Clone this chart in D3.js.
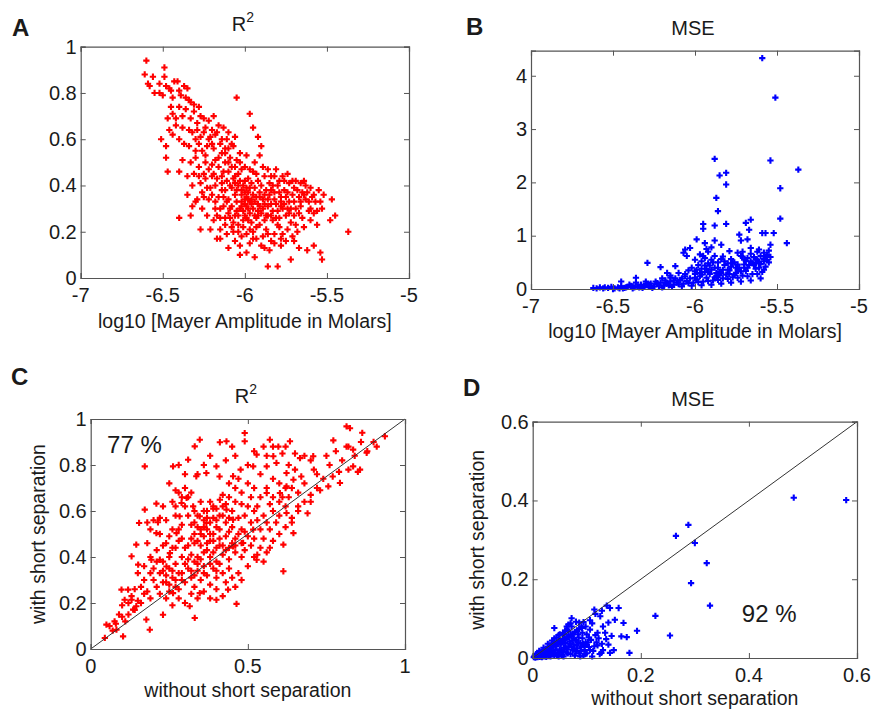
<!DOCTYPE html>
<html>
  <head>
    <meta charset="utf-8">
    <script src="https://d3js.org/d3.v7.min.js"></script>
    <title>Mayer amplitude scatter panels</title>
    <style>
      body { margin: 0px; background: #fff; }
      text { font-family: "Liberation Sans", Arial, sans-serif; fill: #1a1a1a; }
      .tick-label { font-size: 20px; }
      .axis-label { font-size: 19.5px; }
      .title { font-size: 20px; }
      .panel-letter { font-size: 24px; font-weight: bold; }
      .note { font-size: 24px; }
    </style>
  </head>
  <body>
    <div id="viz"></div>
    <script>
      // panel A: R^2 vs log10 Mayer amplitude
      const pointsA = [
        [-6.60,0.94],[-6.61,0.88],[-6.59,0.84],[-6.56,0.87],[-6.58,0.83],[-6.49,0.91],[-6.49,0.87],[-6.52,0.80],[-6.48,0.83],[-6.50,0.79],
        [-6.46,0.82],[-6.43,0.85],[-6.41,0.85],[-6.45,0.81],[-6.44,0.78],[-6.37,0.83],[-6.35,0.82],[-6.39,0.79],[-6.36,0.78],[-6.33,0.76],
        [-6.31,0.75],[-6.34,0.77],[-6.45,0.74],[-6.47,0.69],[-6.44,0.71],[-6.38,0.70],[-6.36,0.73],[-6.40,0.74],[-6.42,0.69],[-6.46,0.64],
        [-6.44,0.62],[-6.27,0.70],[-6.25,0.69],[-6.19,0.70],[-6.22,0.68],[-6.29,0.67],[-6.05,0.78],[-5.97,0.71],[-5.95,0.65],[-5.92,0.61],
        [-5.90,0.57],[-6.51,0.60],[-6.48,0.57],[-6.48,0.52],[-6.47,0.46],[-6.40,0.46],[-6.38,0.51],[-6.37,0.58],[-6.34,0.64],[-6.32,0.63],
        [-6.29,0.64],[-6.30,0.60],[-6.25,0.63],[-6.27,0.61],[-6.21,0.61],[-6.17,0.63],[-6.13,0.65],[-6.11,0.60],[-6.07,0.57],[-6.15,0.58],
        [-6.19,0.56],[-6.23,0.57],[-6.26,0.55],[-6.30,0.52],[-6.33,0.50],[-6.35,0.44],[-6.31,0.45],[-6.28,0.48],[-6.24,0.50],[-6.20,0.49],
        [-6.16,0.52],[-6.12,0.54],[-6.09,0.52],[-6.05,0.51],[-6.03,0.54],[-5.99,0.53],[-5.94,0.50],[-5.91,0.53],[-5.86,0.47],[-5.81,0.47],
        [-5.82,0.44],[-5.76,0.42],[-5.69,0.42],[-5.66,0.41],[-5.64,0.42],[-5.60,0.39],[-5.55,0.38],[-5.58,0.36],[-5.64,0.36],[-5.47,0.34],
        [-5.53,0.30],[-5.58,0.28],[-5.45,0.27],[-5.48,0.25],[-5.37,0.20],[-5.53,0.08],[-5.54,0.11],[-5.58,0.14],[-5.62,0.12],[-5.67,0.13],
        [-5.72,0.08],[-5.70,0.16],[-5.78,0.14],[-5.80,0.05],[-5.86,0.05],[-5.88,0.13],[-5.84,0.16],[-5.94,0.09],[-5.99,0.11],[-6.03,0.10],
        [-6.03,0.14],[-6.10,0.13],[-6.15,0.17],[-6.17,0.17],[-6.21,0.21],[-6.27,0.21],[-6.33,0.27],[-6.40,0.26],[-6.32,0.31],[-6.29,0.34],
        [-6.25,0.35],[-6.23,0.27],[-6.19,0.25],[-6.15,0.21],[-6.11,0.19],[-6.07,0.20],[-6.15,0.26],[-6.12,0.38],[-6.10,0.34],[-6.08,0.31],
        [-6.06,0.36],[-6.04,0.40],[-6.02,0.33],[-6.00,0.37],[-5.98,0.30],[-5.96,0.34],[-5.94,0.39],[-5.92,0.32],[-5.90,0.28],[-5.88,0.36],
        [-5.86,0.31],[-5.84,0.38],[-5.82,0.34],[-5.80,0.29],[-5.78,0.35],[-5.76,0.32],[-5.74,0.37],[-5.72,0.30],[-5.70,0.33],[-5.68,0.38],
        [-5.66,0.31],[-5.63,0.34],[-5.61,0.29],[-5.72,0.24],[-5.75,0.27],[-5.79,0.22],[-5.83,0.25],[-5.87,0.21],[-5.91,0.23],[-5.95,0.20],
        [-5.98,0.25],[-6.01,0.22],[-6.04,0.27],[-6.07,0.24],[-6.10,0.28],[-6.13,0.31],[-6.16,0.35],[-6.18,0.40],[-6.20,0.44],[-6.14,0.44],
        [-6.10,0.46],[-6.06,0.44],[-6.02,0.47],[-5.98,0.43],[-5.95,0.46],[-5.92,0.42],[-5.88,0.44],[-5.85,0.41],[-5.80,0.40],[-5.77,0.44],
        [-5.73,0.41],[-5.70,0.39],[-5.97,0.28],[-5.93,0.26],[-5.89,0.30],[-6.00,0.32],[-6.03,0.30],[-6.05,0.33],[-5.99,0.35],[-5.95,0.36],
        [-6.01,0.40],[-6.08,0.39],[-6.11,0.42],[-5.97,0.39],[-5.91,0.37],[-5.86,0.34],[-5.83,0.29],[-5.81,0.26],[-5.77,0.19],[-5.74,0.21],
        [-5.69,0.23],[-5.65,0.26],[-5.60,0.30],[-5.57,0.33],[-5.62,0.37],[-5.67,0.35],[-5.93,0.17],[-5.97,0.15],[-6.02,0.18],[-6.06,0.16],
        [-5.89,0.18],[-5.85,0.12],[-5.82,0.19],[-6.00,0.27],[-6.04,0.23],[-6.09,0.30],[-5.96,0.24],[-5.92,0.29],[-6.21,0.39],[-6.24,0.43],
        [-6.27,0.41],[-6.22,0.34],[-6.18,0.30],[-6.13,0.35],[-6.26,0.37],[-6.19,0.45],[-6.16,0.48],[-6.12,0.50],[-6.08,0.48],[-6.04,0.45],
        [-6.00,0.42],[-6.00,0.48],[-6.07,0.43],[-6.14,0.41],[-5.99,0.31],[-5.98,0.34],[-6.02,0.36],[-5.94,0.33],[-5.90,0.40],[-5.87,0.38],
        [-5.79,0.37],[-5.76,0.38],[-5.71,0.36],[-5.73,0.33],[-5.78,0.31],[-5.84,0.32],[-5.91,0.35],[-6.05,0.29],[-6.09,0.26],[-6.12,0.23],
        [-6.17,0.27],[-5.93,0.22],[-5.88,0.25],[-5.86,0.27],[-5.80,0.23],[-6.22,0.60],[-6.20,0.58],[-6.18,0.62],[-6.14,0.60],[-6.10,0.63],
        [-6.08,0.58],[-6.06,0.61],[-6.12,0.56],[-6.28,0.58],[-6.24,0.53],[-6.10,0.56],
        [-6.05,0.38],[-6.03,0.42],[-6.01,0.29],[-5.99,0.26],[-5.97,0.33],[-5.96,0.41],[-5.94,0.27],[-5.93,0.35],[-5.91,0.31],[-5.89,0.34],
        [-5.87,0.27],[-5.85,0.36],[-5.83,0.40],[-5.81,0.32],[-5.79,0.26],[-5.77,0.30],[-5.75,0.35],[-5.73,0.28],[-5.71,0.42],[-5.69,0.30],
        [-5.67,0.28],[-5.65,0.37],[-5.63,0.40],[-5.61,0.33],[-5.59,0.35],[-5.56,0.29],[-5.54,0.33],[-5.52,0.36],[-5.56,0.23],[-5.60,0.25],
        [-5.64,0.22],[-5.68,0.20],[-5.71,0.18],[-5.75,0.16],[-5.78,0.17],[-5.82,0.15],[-5.86,0.19],[-5.90,0.14],[-5.95,0.17],[-5.99,0.19],
        [-6.04,0.20],[-6.08,0.22],[-6.12,0.26],[-6.15,0.30],[-6.18,0.33],[-6.20,0.36],[-6.23,0.39],[-6.25,0.45],[-6.22,0.47],[-6.18,0.51],
        [-6.14,0.54],[-6.10,0.50],[-6.06,0.48],[-6.03,0.50],[-5.97,0.47],[-5.93,0.45],[-5.89,0.48],[-5.84,0.44],[-5.79,0.42],[-5.74,0.45],
        [-6.13,0.46],[-6.09,0.40],[-6.06,0.41],[-6.02,0.38],[-5.98,0.37],[-5.95,0.30],[-5.92,0.27],[-5.88,0.32],[-5.84,0.27],[-5.82,0.37],
        [-5.78,0.33],[-5.74,0.30],[-5.70,0.27],[-5.66,0.33],[-6.00,0.34],[-6.02,0.31],[-5.96,0.32],[-5.99,0.39],[-6.01,0.25],[-5.97,0.21],
        [-6.06,0.27],[-6.11,0.33],[-6.14,0.38],[-6.17,0.43],[-6.28,0.44],[-6.32,0.40],[-6.35,0.36],[-6.30,0.33],[-6.26,0.30],[-6.30,0.55],
        [-6.34,0.57],[-6.40,0.60],[-6.42,0.66],[-6.38,0.65],[-6.33,0.69],[-6.31,0.72],[-6.28,0.74],[-6.24,0.65],[-6.16,0.66],[-6.20,0.64],
        [-6.40,0.81],[-6.52,0.84],[-6.55,0.80]
      ];

      // panel B: MSE vs log10 Mayer amplitude
      const pointsB = [
        [-6.62,0.02],[-6.60,0.01],[-6.58,0.03],[-6.56,0.01],[-6.53,0.02],[-6.51,0.04],[-6.49,0.01],[-6.47,0.03],[-6.45,0.05],[-6.43,0.02],
        [-6.41,0.04],[-6.39,0.06],[-6.37,0.03],[-6.35,0.05],[-6.33,0.08],[-6.31,0.04],[-6.29,0.07],[-6.27,0.10],[-6.25,0.05],[-6.23,0.09],
        [-6.21,0.12],[-6.19,0.06],[-6.17,0.10],[-6.15,0.14],[-6.13,0.08],[-6.11,0.12],[-6.09,0.17],[-6.07,0.10],[-6.05,0.15],[-6.03,0.20],
        [-6.01,0.12],[-5.99,0.18],[-5.97,0.24],[-5.95,0.14],[-5.93,0.21],[-5.91,0.28],[-5.89,0.16],[-5.87,0.24],[-5.85,0.32],[-5.83,0.20],
        [-5.81,0.27],[-5.79,0.35],[-5.77,0.22],[-5.75,0.30],[-5.73,0.40],[-5.71,0.25],[-5.69,0.34],[-5.67,0.45],[-5.65,0.28],[-5.63,0.38],
        [-5.61,0.50],[-5.59,0.32],[-5.57,0.42],[-5.56,0.55],[-6.50,0.00],[-6.44,0.01],[-6.38,0.01],[-6.32,0.02],[-6.26,0.02],[-6.20,0.03],
        [-6.14,0.04],[-6.08,0.05],[-6.02,0.06],[-5.96,0.07],[-5.90,0.08],[-5.84,0.10],[-5.78,0.12],[-5.72,0.14],[-5.66,0.16],[-5.60,0.20],
        [-6.36,0.12],[-6.30,0.10],[-6.24,0.14],[-6.18,0.16],[-6.12,0.20],[-6.06,0.24],[-6.00,0.28],[-5.94,0.32],[-5.88,0.40],[-5.82,0.45],
        [-5.76,0.50],[-5.70,0.55],[-5.64,0.60],[-5.98,0.45],[-5.96,0.52],[-5.94,0.58],[-5.92,0.48],[-5.90,0.55],[-5.88,0.62],[-5.86,0.50],
        [-5.84,0.56],[-5.80,0.48],[-5.78,0.42],[-5.74,0.36],[-5.70,0.46],[-5.68,0.58],[-5.66,0.66],[-5.62,0.70],[-5.60,0.62],[-5.58,0.56],
        [-5.54,0.60],[-5.55,0.72],[-6.10,0.30],[-6.15,0.25],[-6.20,0.20],[-6.04,0.35],[-6.02,0.40],[-5.99,0.36],[-5.97,0.30],[-5.93,0.38],
        [-5.91,0.44],[-5.87,0.30],[-5.85,0.26],[-5.83,0.36],[-5.79,0.28],[-5.75,0.40],[-5.72,0.62],[-5.71,0.70],[-5.69,0.52],[-5.65,0.48],
        [-5.63,0.56],[-5.61,0.40],[-5.59,4.33],[-5.51,3.59],[-5.54,2.41],[-5.37,2.24],[-5.48,1.89],[-5.48,1.32],[-5.52,1.05],[-5.44,0.86],
        [-5.54,0.83],[-5.88,2.44],[-5.85,2.13],[-5.81,2.18],[-5.81,1.96],[-5.87,1.71],[-5.86,1.46],[-5.88,1.19],[-5.81,1.22],[-5.95,1.22],
        [-5.95,1.13],[-5.88,0.91],[-5.84,0.83],[-5.99,0.93],[-6.03,0.77],[-6.06,0.74],[-6.07,0.68],[-5.94,0.86],[-5.69,1.24],[-5.66,1.30],
        [-5.67,1.11],[-5.59,1.05],[-5.57,1.05],[-5.73,1.02],[-5.72,0.91],[-5.68,0.93],[-5.66,0.77],[-5.61,0.74],[-5.58,0.68],[-5.56,0.64],
        [-5.58,0.52],[-5.55,0.50],[-5.63,0.49],[-5.71,0.61],[-5.74,0.68],[-5.79,0.71],[-5.83,0.61],[-5.77,0.49],[-6.29,0.49],[-6.21,0.41],
        [-6.17,0.30],[-6.12,0.43],[-6.15,0.21],[-6.45,0.14],[-6.40,0.08],[-6.36,0.21],[-6.05,0.62],[-6.00,0.55],[-5.97,0.65],[-5.92,0.70],
        [-5.90,0.78],
        [-6.46,0.01],[-6.42,0.03],[-6.34,0.03],[-6.28,0.05],[-6.22,0.06],[-6.16,0.07],[-6.10,0.09],[-6.04,0.11],[-5.98,0.13],[-5.92,0.15],
        [-5.86,0.17],[-5.80,0.19],[-5.74,0.21],[-5.68,0.24],[-5.62,0.28],[-5.58,0.36],[-6.00,0.21],[-5.96,0.27],[-5.92,0.33],[-5.88,0.22],
        [-5.84,0.30],[-5.80,0.36],[-5.76,0.27],[-5.72,0.33],[-5.68,0.40],[-5.64,0.45],[-5.60,0.47],[-5.57,0.60],[-5.62,0.55],[-5.66,0.52],
        [-5.70,0.40],[-5.74,0.46],[-5.78,0.56],[-5.82,0.52],[-5.86,0.40],[-5.90,0.36],[-5.94,0.44],[-5.96,0.38],[-6.08,0.20],[-6.13,0.16],
        [-6.18,0.12],[-6.23,0.11],[-6.28,0.08],[-6.33,0.06],[-6.38,0.05],[-6.55,0.03],[-6.30,0.14],[-6.06,0.28],[-6.00,0.33],[-5.95,0.62],
        [-5.93,0.75],[-5.89,0.50]
      ];

      // panel C: R^2 with vs without short separation
      const pointsC = [
        [0.814,0.968],[0.825,0.96],[0.864,0.94],[0.772,0.907],[0.936,0.925],[0.91,0.88],[0.878,0.853],[0.814,0.88],[0.835,0.867],[0.857,0.78],
        [0.835,0.794],[0.793,0.722],[0.756,0.707],[0.708,0.838],[0.666,0.83],[0.634,0.903],[0.597,0.88],[0.581,0.838],[0.528,0.845],[0.49,0.939],
        [0.49,0.903],[0.432,0.903],[0.411,0.899],[0.347,0.91],[0.331,0.881],[0.262,0.794],[0.172,0.794],[0.31,0.823],[0.336,0.751],[0.368,0.765],
        [0.40,0.794],[0.453,0.751],[0.477,0.78],[0.517,0.794],[0.56,0.794],[0.591,0.809],[0.623,0.765],[0.645,0.736],[0.623,0.707],[0.602,0.678],
        [0.56,0.678],[0.623,0.591],[0.645,0.504],[0.613,0.454],[0.613,0.338],[0.528,0.388],[0.517,0.519],[0.485,0.461],[0.453,0.446],[0.437,0.258],
        [0.464,0.196],[0.40,0.214],[0.347,0.243],[0.331,0.135],[0.315,0.186],[0.262,0.243],[0.23,0.149],[0.188,0.084],[0.177,0.128],[0.135,0.171],
        [0.103,0.055],[0.082,0.084],[0.05,0.106],[0.045,0.048],[0.076,0.12],[0.098,0.258],[0.119,0.258],[0.108,0.214],[0.13,0.214],[0.145,0.186],
        [0.13,0.403],[0.151,0.367],[0.145,0.454],[0.154,0.548],[0.172,0.606],[0.209,0.632],[0.214,0.551],[0.209,0.504],[0.193,0.388],[0.22,0.388],
        [0.241,0.359],[0.252,0.417],[0.273,0.504],[0.283,0.577],[0.289,0.635],[0.305,0.657],[0.326,0.62],[0.347,0.577],[0.368,0.548],[0.39,0.62],
        [0.411,0.649],[0.432,0.606],[0.453,0.562],[0.70,0.82],[0.72,0.76],[0.68,0.72],[0.66,0.68],[0.74,0.74],[0.76,0.80],[0.78,0.86],
        [0.80,0.82],[0.82,0.78],[0.84,0.84],[0.86,0.90],[0.88,0.86],[0.90,0.90],[0.85,0.77],[0.82,0.88],[0.77,0.75],[0.73,0.69],
        [0.70,0.64],[0.69,0.59],[0.66,0.62],[0.64,0.57],[0.63,0.66],[0.60,0.72],[0.58,0.74],[0.57,0.63],[0.55,0.58],[0.53,0.62],
        [0.51,0.66],[0.50,0.72],[0.48,0.68],[0.47,0.74],[0.52,0.70],[0.54,0.76],[0.56,0.84],[0.58,0.88],[0.61,0.85],[0.63,0.80],
        [0.65,0.85],[0.55,0.88],[0.52,0.86],[0.45,0.88],[0.43,0.82],[0.41,0.75],[0.38,0.84],[0.36,0.80],[0.34,0.76],[0.30,0.76],
        [0.28,0.80],[0.25,0.72],[0.27,0.69],[0.30,0.70],[0.32,0.68],[0.30,0.62],[0.31,0.58],[0.32,0.54],[0.33,0.50],[0.34,0.47],
        [0.35,0.52],[0.36,0.56],[0.37,0.60],[0.38,0.64],[0.39,0.57],[0.40,0.53],[0.41,0.58],[0.42,0.62],[0.43,0.55],[0.44,0.51],
        [0.45,0.60],[0.46,0.64],[0.47,0.57],[0.48,0.52],[0.49,0.58],[0.50,0.62],[0.51,0.55],[0.35,0.45],[0.36,0.49],[0.37,0.46],
        [0.38,0.50],[0.39,0.47],[0.40,0.44],[0.41,0.48],[0.42,0.45],[0.43,0.49],[0.44,0.44],[0.46,0.48],[0.48,0.46],[0.50,0.49],
        [0.52,0.48],[0.54,0.52],[0.56,0.55],[0.58,0.60],[0.60,0.58],[0.62,0.62],[0.55,0.48],[0.34,0.53],[0.36,0.60],[0.38,0.55],
        [0.40,0.61],[0.42,0.67],[0.44,0.66],[0.46,0.70],[0.35,0.64],[0.33,0.60],[0.31,0.66],[0.29,0.54],[0.27,0.58],[0.26,0.52],
        [0.28,0.47],[0.30,0.44],[0.32,0.41],[0.34,0.40],[0.36,0.42],[0.38,0.40],[0.40,0.38],[0.42,0.41],[0.44,0.39],[0.46,0.42],
        [0.48,0.40],[0.37,0.52],[0.39,0.50],[0.35,0.50],[0.33,0.46],[0.41,0.52],[0.20,0.30],[0.21,0.27],[0.22,0.33],[0.23,0.29],
        [0.24,0.32],[0.25,0.28],[0.26,0.34],[0.27,0.30],[0.28,0.26],[0.29,0.33],[0.30,0.29],[0.31,0.35],[0.32,0.31],[0.33,0.27],
        [0.34,0.34],[0.35,0.30],[0.36,0.36],[0.37,0.32],[0.38,0.28],[0.39,0.35],[0.40,0.31],[0.41,0.37],[0.42,0.33],[0.43,0.29],
        [0.44,0.35],[0.45,0.31],[0.46,0.27],[0.47,0.33],[0.48,0.30],[0.50,0.36],[0.52,0.40],[0.54,0.44],[0.56,0.42],[0.58,0.47],
        [0.60,0.50],[0.62,0.53],[0.64,0.55],[0.66,0.60],[0.68,0.64],[0.70,0.67],[0.72,0.70],[0.18,0.25],[0.19,0.22],[0.17,0.30],
        [0.16,0.27],[0.15,0.21],[0.14,0.17],[0.12,0.15],[0.11,0.12],[0.10,0.19],[0.09,0.15],[0.08,0.11],[0.07,0.08],[0.06,0.10],
        [0.13,0.23],[0.15,0.33],[0.17,0.36],[0.19,0.40],[0.21,0.43],[0.23,0.38],[0.25,0.40],[0.27,0.37],[0.29,0.40],[0.31,0.39],
        [0.33,0.38],[0.24,0.22],[0.26,0.19],[0.28,0.22],[0.30,0.20],[0.32,0.24],[0.34,0.22],[0.36,0.25],[0.38,0.22],[0.40,0.26],
        [0.42,0.23],[0.22,0.24],[0.20,0.35],[0.18,0.46],[0.22,0.50],[0.24,0.46],[0.26,0.44],[0.24,0.56],[0.20,0.56],[0.23,0.62],
        [0.26,0.64],[0.28,0.68],[0.49,0.43],[0.51,0.45],[0.53,0.41],[0.55,0.38],[0.57,0.44],
        [0.36,0.53],[0.37,0.57],[0.38,0.47],[0.39,0.61],[0.40,0.56],[0.41,0.45],[0.42,0.58],[0.43,0.63],[0.44,0.57],[0.45,0.53],
        [0.46,0.45],[0.47,0.50],[0.34,0.58],[0.33,0.55],[0.32,0.48],[0.31,0.45],[0.29,0.48],[0.28,0.52],[0.27,0.44],[0.25,0.35],
        [0.24,0.29],[0.23,0.34],[0.26,0.31],[0.28,0.33],[0.30,0.37],[0.32,0.34],[0.34,0.37],[0.36,0.33],[0.38,0.37],[0.40,0.34],
        [0.29,0.30],[0.27,0.27],[0.25,0.25],[0.33,0.32],[0.35,0.39],[0.37,0.43],[0.39,0.42],[0.43,0.43],[0.45,0.46],[0.49,0.51],
        [0.53,0.56],[0.57,0.52],[0.59,0.55],[0.61,0.66],[0.64,0.70],[0.67,0.75],[0.71,0.78],[0.75,0.84],[0.79,0.77],[0.68,0.84],
        [0.62,0.88],[0.57,0.91],[0.46,0.84],[0.50,0.80],[0.44,0.72],[0.48,0.63],[0.52,0.60],[0.54,0.66],[0.56,0.70],[0.58,0.66],
        [0.60,0.64],[0.62,0.70],[0.65,0.78],[0.21,0.38],[0.19,0.33],[0.17,0.24],[0.16,0.20],[0.14,0.26],[0.12,0.20],[0.10,0.14],
        [0.23,0.45],[0.25,0.49],[0.27,0.62],[0.29,0.66],[0.22,0.57],[0.19,0.52],[0.18,0.55]
      ];

      // panel D: MSE with vs without short separation
      const pointsD = [
        [0.483,0.407],[0.58,0.401],[0.288,0.338],[0.265,0.31],[0.30,0.292],[0.322,0.241],[0.293,0.19],[0.328,0.133],[0.227,0.107],[0.254,0.057],
        [0.193,0.069],[0.179,0.013],[0.159,0.127],[0.168,0.089],[0.164,0.055],[0.174,0.053],[0.152,0.097],[0.137,0.133],[0.143,0.127],[0.114,0.123],
        [0.125,0.106],[0.127,0.013],[0.14,0.034],[0.143,0.013],[0.106,0.072],[0.10,0.034],[0.094,0.091],[0.091,0.076],[0.072,0.101],[0.066,0.085],
        [0.063,0.08],[0.04,0.076],[0.002,0.002],[0.004,0.006],[0.006,0.003],[0.008,0.010],[0.010,0.004],[0.012,0.012],[0.014,0.006],[0.016,0.016],
        [0.018,0.008],[0.020,0.020],[0.022,0.010],[0.024,0.024],[0.026,0.012],[0.028,0.028],[0.030,0.014],[0.032,0.032],[0.034,0.016],[0.036,0.036],
        [0.038,0.018],[0.040,0.040],[0.042,0.020],[0.044,0.030],[0.046,0.012],[0.048,0.044],[0.050,0.022],[0.052,0.034],[0.054,0.008],[0.056,0.048],
        [0.058,0.026],[0.060,0.038],[0.062,0.014],[0.064,0.052],[0.066,0.030],[0.068,0.042],[0.070,0.010],[0.072,0.056],[0.074,0.020],[0.076,0.034],
        [0.078,0.006],[0.080,0.046],[0.082,0.024],[0.084,0.060],[0.086,0.012],[0.088,0.038],[0.090,0.028],[0.092,0.050],[0.094,0.006],[0.096,0.020],
        [0.098,0.040],[0.100,0.012],[0.104,0.028],[0.108,0.046],[0.112,0.018],[0.116,0.058],[0.120,0.032],[0.124,0.010],[0.130,0.020],[0.136,0.048],
        [0.150,0.020],[0.010,0.008],[0.014,0.010],[0.018,0.014],[0.022,0.018],[0.026,0.020],[0.030,0.024],[0.034,0.026],[0.038,0.030],[0.042,0.032],
        [0.046,0.036],[0.050,0.040],[0.054,0.042],[0.058,0.046],[0.062,0.050],[0.066,0.054],[0.070,0.058],[0.074,0.062],[0.078,0.066],[0.082,0.070],
        [0.086,0.074],[0.090,0.080],[0.080,0.092],[0.070,0.088],[0.060,0.070],[0.050,0.060],[0.044,0.052],[0.036,0.044],[0.028,0.036],[0.020,0.026],
        [0.012,0.018],[0.006,0.010],[0.003,0.004],[0.016,0.004],[0.024,0.006],[0.032,0.008],[0.040,0.006],[0.048,0.004],[0.056,0.016],[0.064,0.022],
        [0.072,0.028],[0.080,0.016],[0.088,0.004],[0.096,0.030],[0.104,0.052],[0.110,0.004],[0.118,0.040],[0.066,0.068],[0.058,0.060],[0.076,0.050],
        [0.084,0.040],[0.092,0.064],[0.100,0.060],[0.110,0.088],[0.120,0.064],[0.130,0.080],
        [0.005,0.001],[0.009,0.002],[0.013,0.003],[0.017,0.002],[0.021,0.004],[0.025,0.003],[0.029,0.005],[0.033,0.004],[0.037,0.010],[0.041,0.012],
        [0.045,0.006],[0.049,0.014],[0.053,0.018],[0.057,0.004],[0.061,0.028],[0.065,0.012],[0.069,0.036],[0.073,0.044],[0.077,0.024],[0.081,0.032],
        [0.085,0.052],[0.089,0.018],[0.093,0.036],[0.097,0.010],[0.102,0.040],[0.106,0.020],[0.114,0.030],[0.122,0.050],[0.128,0.036],[0.134,0.064],
        [0.140,0.090],[0.146,0.056],[0.040,0.050],[0.048,0.058],[0.056,0.064],[0.064,0.072],[0.072,0.080],[0.086,0.090],[0.098,0.080],[0.106,0.096],
        [0.116,0.112],[0.128,0.120]
      ];

      // tick values
      const ticksAmpX = [-7, -6.5, -6, -5.5, -5];
      const ticksR2Y = [0, 0.2, 0.4, 0.6, 0.8, 1];
      const ticksMseY = [0, 1, 2, 3, 4];
      const ticksCX = [0, 0.5, 1];
      const ticksD = [0, 0.2, 0.4, 0.6];

      const svg = d3.select('#viz').append('svg')
        .attr('width', 873)
        .attr('height', 713);

      const panels = [
        { letter: 'A', lx: 12, ly: 36, title: 'R2', box: [80.7, 46.7, 409, 278], xDomain: [-7, -5], yDomain: [0, 1],
          xTicks: ticksAmpX, yTicks: ticksR2Y, data: pointsA, color: '#ff0000', xLabel: 'log10 [Mayer Amplitude in Molars]', xLabelDy: 50 },
        { letter: 'B', lx: 466, ly: 35, title: 'MSE', box: [531, 50.7, 859, 289], xDomain: [-7, -5], yDomain: [0, 4.47],
          xTicks: ticksAmpX, yTicks: ticksMseY, data: pointsB, color: '#0000ff', xLabel: 'log10 [Mayer Amplitude in Molars]', xLabelDy: 49 },
        { letter: 'C', lx: 11, ly: 385, title: 'R2', box: [90.7, 419, 405, 649], xDomain: [0, 1], yDomain: [0, 1],
          xTicks: ticksCX, yTicks: ticksR2Y, data: pointsC, color: '#ff0000', xLabel: 'without short separation', xLabelDy: 48,
          yLabel: 'with short separation', yLabelDx: 46, diagonal: true, note: '77 %', notePos: [0.052, 0.852] },
        { letter: 'D', lx: 463, ly: 396, title: 'MSE', box: [532.7, 421.7, 857, 658], xDomain: [0, 0.6], yDomain: [0, 0.6],
          xTicks: ticksD, yTicks: ticksD, data: pointsD, color: '#0000ff', xLabel: 'without short separation', xLabelDy: 47,
          yLabel: 'with short separation', yLabelDx: 49, diagonal: true, note: '92 %', notePos: [0.387, 0.091] }
      ];

      const marker = d3.symbol().type(d3.symbolCross).size(22);

      const drawPanel = p => {
        const [x0, y0, x1, y1] = p.box;
        const xScale = d3.scaleLinear().domain(p.xDomain).range([x0, x1]);
        const yScale = d3.scaleLinear().domain(p.yDomain).range([y1, y0]);
        const g = svg.append('g');

        // points first so the frame sits on top
        g.append('g').selectAll('path').data(p.data)
          .enter().append('path')
            .attr('d', marker)
            .attr('transform', d => `translate(${xScale(d[0])},${yScale(d[1])})`)
            .attr('fill', p.color);

        if (p.diagonal) {
          g.append('line')
            .attr('x1', xScale(p.xDomain[0])).attr('y1', yScale(p.yDomain[0]))
            .attr('x2', xScale(p.xDomain[1])).attr('y2', yScale(p.yDomain[1]))
            .attr('stroke', '#333').attr('stroke-width', 1);
        }

        // MATLAB style box with inward ticks on all sides
        const fmt = d => String(+d.toFixed(2));
        const axes = [
          [d3.axisBottom(xScale).tickValues(p.xTicks).tickSize(-5).tickFormat(''), `translate(0,${y1})`],
          [d3.axisTop(xScale).tickValues(p.xTicks).tickSize(-5).tickFormat(''), `translate(0,${y0})`],
          [d3.axisLeft(yScale).tickValues(p.yTicks).tickSize(-5).tickFormat(''), `translate(${x0},0)`],
          [d3.axisRight(yScale).tickValues(p.yTicks).tickSize(-5).tickFormat(''), `translate(${x1},0)`]
        ];
        axes.forEach(([ax, tr]) => {
          const a = g.append('g').attr('transform', tr).call(ax);
          a.select('.domain').attr('stroke', '#555').attr('stroke-width', 1.2);
          a.selectAll('.tick line').attr('stroke', '#555');
        });

        g.selectAll('.xt').data(p.xTicks).enter().append('text')
          .attr('class', 'tick-label')
          .attr('x', d => xScale(d))
          .attr('y', y1 + 24)
          .attr('text-anchor', 'middle')
          .text(fmt);

        g.selectAll('.yt').data(p.yTicks).enter().append('text')
          .attr('class', 'tick-label')
          .attr('x', x0 - 4)
          .attr('y', d => yScale(d))
          .attr('dy', '0.34em')
          .attr('text-anchor', 'end')
          .text(fmt);

        const title = g.append('text')
          .attr('class', 'title')
          .attr('x', (x0 + x1) / 2 - 2)
          .attr('y', y0 - 16)
          .attr('text-anchor', 'middle');
        if (p.title === 'R2') {
          title.append('tspan').text('R');
          title.append('tspan').attr('font-size', '14px').attr('dy', -9).text('2');
        } else {
          title.text(p.title);
        }

        g.append('text')
          .attr('class', 'axis-label')
          .attr('x', (x0 + x1) / 2)
          .attr('y', y1 + p.xLabelDy)
          .attr('text-anchor', 'middle')
          .text(p.xLabel);

        if (p.yLabel) {
          g.append('text')
            .attr('class', 'axis-label')
            .attr('transform', `translate(${x0 - p.yLabelDx},${(y0 + y1) / 2}) rotate(-90)`)
            .attr('text-anchor', 'middle')
            .text(p.yLabel);
        }

        if (p.note) {
          g.append('text')
            .attr('class', 'note')
            .attr('x', xScale(p.notePos[0]))
            .attr('y', yScale(p.notePos[1]))
            .text(p.note);
        }

        svg.append('text')
          .attr('class', 'panel-letter')
          .attr('x', p.lx)
          .attr('y', p.ly)
          .text(p.letter);
      };

      panels.forEach(drawPanel);
    </script>
  </body>
</html>
